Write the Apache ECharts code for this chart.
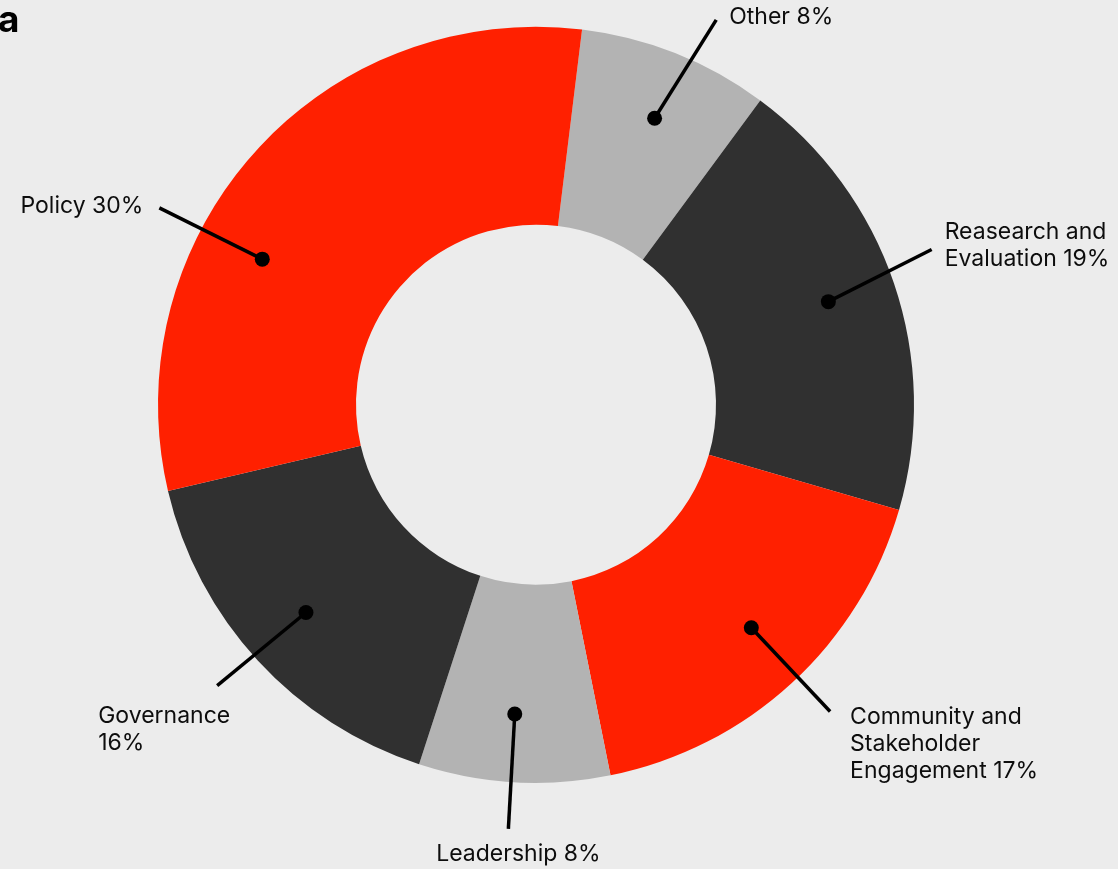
<!DOCTYPE html>
<html>
<head>
<meta charset="utf-8">
<script src="https://cdn.jsdelivr.net/npm/echarts@6/dist/echarts.min.js"></script>
<style>
html,body{margin:0;padding:0;background:#ececec;}
#chart{width:1118px;height:869px;}
</style>
</head>
<body>
<div id="chart"></div>
<script>
// ---- data ----
const categories = ['Other', 'Reasearch and Evaluation', 'Community and Stakeholder Engagement', 'Leadership', 'Governance', 'Policy'];
const shares = [8, 19, 17, 8, 16, 30];
const labelTexts = ['Other 8%', 'Reasearch and\nEvaluation 19%', 'Community and\nStakeholder\nEngagement 17%', 'Leadership 8%', 'Governance\n16%', 'Policy 30%'];

// ---- styles / layout ----
const sliceColors = ['#b3b3b3', '#303030', '#ff2000', '#b3b3b3', '#303030', '#ff2000'];
const CENTER = [536, 404.7];
const R_INNER = 180, R_OUTER = 378, R_DOT = 310, R_END = 425;
const START_ANGLE = 83;
// callout tweaks: angular shift (deg) of dot and line end relative to slice middle, label placement
const callout = [
  {dot: 0.8,  end: 3.4,   align: 'left',   va: 'middle', off: [13, -3]},
  {dot: -0.7, end: -2.7,  align: 'left',   va: 'middle', off: [13, -4]},
  {dot: -1.4, end: -1.2,  align: 'left',   va: 'top',    off: [20, -8]},
  {dot: 0.6,  end: 0.4,   align: 'center', va: 'middle', off: [10, 25]},
  {dot: 0.5,  end: 1.2,   align: 'left',   va: 'top',    off: [-119, 17]},
  {dot: -13.9, end: -14.3, align: 'right', va: 'middle', off: [-16, -2]}
];

const total = shares.reduce((a, b) => a + b, 0);
let acc = 0;
const mids = shares.map(v => { const m = acc + v / 2; acc += v; return m; });
const degToVal = d => d * total / 360;

const FONT = 'Inter';
const lineSeries = categories.map((c, i) => ({
  type: 'line',
  coordinateSystem: 'polar',
  data: [[R_DOT, mids[i] + degToVal(callout[i].dot)], [R_END, mids[i] + degToVal(callout[i].end)]],
  symbol: 'none',
  showSymbol: false,
  lineStyle: {color: '#000', width: 3.5, opacity: 1},
  silent: true,
  clip: false,
  z: 3
}));

const chart = echarts.init(document.getElementById('chart'), null, {renderer: 'canvas'});
chart.setOption({
  backgroundColor: '#ececec',
  animation: false,
  title: {
    text: 'a', left: -2, top: 2, padding: 0,
    textStyle: {fontFamily: FONT, fontSize: 37, fontWeight: 'bold', color: '#000'}
  },
  polar: {center: CENTER, radius: 440},
  angleAxis: {
    type: 'value', min: 0, max: total, startAngle: START_ANGLE, clockwise: true,
    show: false, splitLine: {show: false}, axisLine: {show: false}, axisLabel: {show: false}, axisTick: {show: false}
  },
  radiusAxis: {
    type: 'value', min: 0, max: 440,
    show: false, splitLine: {show: false}, axisLine: {show: false}, axisLabel: {show: false}, axisTick: {show: false}
  },
  series: [
    {
      type: 'pie',
      center: CENTER,
      radius: [R_INNER, R_OUTER],
      startAngle: START_ANGLE,
      clockwise: true,
      silent: true,
      avoidLabelOverlap: false,
      label: {show: false},
      labelLine: {show: false},
      itemStyle: {borderWidth: 0},
      emphasis: {disabled: true},
      data: categories.map((c, i) => ({name: c, value: shares[i], itemStyle: {color: sliceColors[i]}})),
      z: 1
    },
    ...lineSeries,
    {
      type: 'scatter',
      coordinateSystem: 'polar',
      symbol: 'circle',
      symbolSize: 15,
      itemStyle: {color: '#000', opacity: 1},
      silent: true,
      clip: false,
      z: 4,
      data: categories.map((c, i) => [R_DOT, mids[i] + degToVal(callout[i].dot)])
    },
    {
      type: 'scatter',
      coordinateSystem: 'polar',
      symbol: 'circle',
      symbolSize: 1,
      itemStyle: {color: 'rgba(0,0,0,0)', opacity: 1},
      silent: true,
      clip: false,
      z: 5,
      data: categories.map((c, i) => ({
        value: [R_END, mids[i] + degToVal(callout[i].end)],
        label: {
          show: true,
          position: 'inside',
          formatter: labelTexts[i],
          align: callout[i].align,
          verticalAlign: callout[i].va,
          offset: callout[i].off,
          fontFamily: FONT,
          fontSize: 23,
          lineHeight: 27,
          color: '#0d0d0d',
          opacity: 1,
          textBorderWidth: 0
        }
      }))
    }
  ]
});
</script>
</body>
</html>
